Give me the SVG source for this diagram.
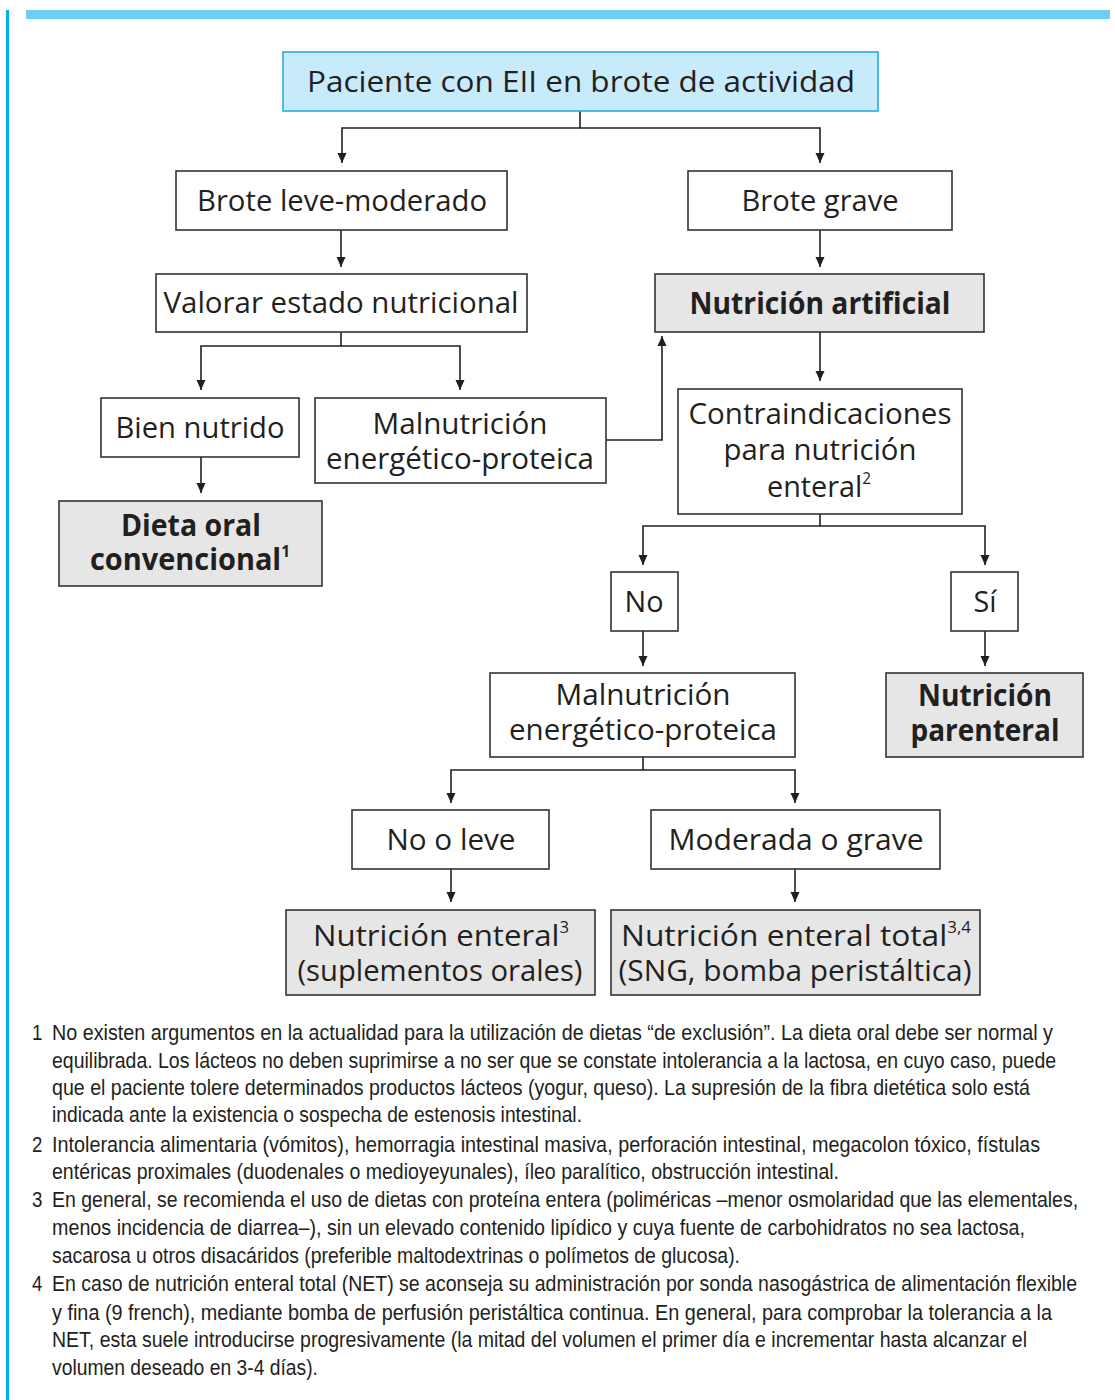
<svg xmlns="http://www.w3.org/2000/svg" width="1115" height="1400" viewBox="0 0 1115 1400">
  <defs>
    <marker id="arrow" viewBox="0 0 10 10" refX="10" refY="5" markerWidth="10" markerHeight="10" markerUnits="userSpaceOnUse" orient="auto">
      <path d="M0,0.5 L10,5 L0,9.5 Z" fill="#231f20"/>
    </marker>
    <style>
      .box { fill: #ffffff; stroke: #333333; stroke-width: 1.6; }
      .grey { fill: #e6e6e6; stroke: #333333; stroke-width: 1.6; }
      .head { fill: #c7ebfb; stroke: #29abe2; stroke-width: 1.6; }
      .t { font-family: "Open Sans", "Noto Sans", sans-serif; font-size: 30px; fill: #231f20; text-anchor: middle; }
      .b { font-weight: bold; }
      .sup { font-size: 16px; }
      .conn { fill: none; stroke: #231f20; stroke-width: 1.6; }
      .fn { font-family: "Liberation Sans", Arial, sans-serif; font-size: 22px; fill: #231f20; }
    </style>
  </defs>

  <!-- page rules -->
  <rect x="6" y="10" width="3" height="1390" fill="#00aeef"/>
  <rect x="26" y="10" width="1084" height="9" fill="#6dcff6"/>

  <!-- connectors -->
  <g id="connectors">
    <path class="conn" d="M580,111 V128 H342 V163" marker-end="url(#arrow)"/>
    <path class="conn" d="M580,128 H820 V163" marker-end="url(#arrow)"/>
    <path class="conn" d="M341,230 V267" marker-end="url(#arrow)"/>
    <path class="conn" d="M820,230 V267" marker-end="url(#arrow)"/>
    <path class="conn" d="M341,332 V346 H201 V390" marker-end="url(#arrow)"/>
    <path class="conn" d="M341,346 H460 V390" marker-end="url(#arrow)"/>
    <path class="conn" d="M606,440 H662 V336" marker-end="url(#arrow)"/>
    <path class="conn" d="M201,457 V493" marker-end="url(#arrow)"/>
    <path class="conn" d="M820,332 V381" marker-end="url(#arrow)"/>
    <path class="conn" d="M820,514 V526 H643 V565" marker-end="url(#arrow)"/>
    <path class="conn" d="M820,526 H985 V565" marker-end="url(#arrow)"/>
    <path class="conn" d="M643,631 V666" marker-end="url(#arrow)"/>
    <path class="conn" d="M985,631 V666" marker-end="url(#arrow)"/>
    <path class="conn" d="M643,757 V770 H451 V803" marker-end="url(#arrow)"/>
    <path class="conn" d="M643,770 H795 V803" marker-end="url(#arrow)"/>
    <path class="conn" d="M451,869 V902" marker-end="url(#arrow)"/>
    <path class="conn" d="M795,869 V902" marker-end="url(#arrow)"/>
  </g>

  <g id="paciente">
    <rect class="head" x="283" y="52" width="595" height="59"/>
    <text class="t" x="581" y="92" textLength="548" lengthAdjust="spacingAndGlyphs">Paciente con EII en brote de actividad</text>
  </g>

  <g id="brote-leve">
    <rect class="box" x="176" y="171" width="331" height="59"/>
    <text class="t" x="342" y="211" textLength="290" lengthAdjust="spacingAndGlyphs">Brote leve-moderado</text>
  </g>

  <g id="brote-grave">
    <rect class="box" x="688" y="171" width="264" height="59"/>
    <text class="t" x="820" y="211" textLength="157" lengthAdjust="spacingAndGlyphs">Brote grave</text>
  </g>

  <g id="valorar">
    <rect class="box" x="156" y="274" width="371" height="58"/>
    <text class="t" x="341" y="313" textLength="355" lengthAdjust="spacingAndGlyphs">Valorar estado nutricional</text>
  </g>

  <g id="nutricion-artificial">
    <rect class="grey" x="655" y="274" width="329" height="58"/>
    <text class="t b" x="820" y="314" textLength="261" lengthAdjust="spacingAndGlyphs">Nutrición artificial</text>
  </g>

  <g id="bien-nutrido">
    <rect class="box" x="101" y="398" width="198" height="59"/>
    <text class="t" x="200" y="438" textLength="169" lengthAdjust="spacingAndGlyphs">Bien nutrido</text>
  </g>

  <g id="malnutricion-1">
    <rect class="box" x="315" y="398" width="291" height="85"/>
    <text class="t" x="460" y="434" textLength="175" lengthAdjust="spacingAndGlyphs">Malnutrición</text>
    <text class="t" x="460" y="469" textLength="268" lengthAdjust="spacingAndGlyphs">energético-proteica</text>
  </g>

  <g id="dieta-oral">
    <rect class="grey" x="59" y="501" width="263" height="85"/>
    <text class="t b" x="191" y="536" textLength="140" lengthAdjust="spacingAndGlyphs">Dieta oral</text>
    <text class="t b" x="190" y="570" textLength="200" lengthAdjust="spacingAndGlyphs">convencional<tspan class="sup" dy="-13">1</tspan></text>
  </g>

  <g id="contraindicaciones">
    <rect class="box" x="678" y="389" width="284" height="125"/>
    <text class="t" x="820" y="424" textLength="263" lengthAdjust="spacingAndGlyphs">Contraindicaciones</text>
    <text class="t" x="820" y="460" textLength="193" lengthAdjust="spacingAndGlyphs">para nutrición</text>
    <text class="t" x="819" y="497" textLength="104" lengthAdjust="spacingAndGlyphs">enteral<tspan class="sup" dy="-13">2</tspan></text>
  </g>

  <g id="no">
    <rect class="box" x="611" y="572" width="67" height="59"/>
    <text class="t" x="644" y="612" textLength="39" lengthAdjust="spacingAndGlyphs">No</text>
  </g>

  <g id="si">
    <rect class="box" x="951" y="572" width="67" height="59"/>
    <text class="t" x="985" y="612" textLength="23" lengthAdjust="spacingAndGlyphs">Sí</text>
  </g>

  <g id="malnutricion-2">
    <rect class="box" x="490" y="673" width="305" height="84"/>
    <text class="t" x="643" y="705" textLength="175" lengthAdjust="spacingAndGlyphs">Malnutrición</text>
    <text class="t" x="643" y="740" textLength="268" lengthAdjust="spacingAndGlyphs">energético-proteica</text>
  </g>

  <g id="nutricion-parenteral">
    <rect class="grey" x="886" y="673" width="197" height="84"/>
    <text class="t b" x="985" y="706" textLength="134" lengthAdjust="spacingAndGlyphs">Nutrición</text>
    <text class="t b" x="985" y="741" textLength="149" lengthAdjust="spacingAndGlyphs">parenteral</text>
  </g>

  <g id="no-o-leve">
    <rect class="box" x="352" y="810" width="197" height="59"/>
    <text class="t" x="451" y="850" textLength="129" lengthAdjust="spacingAndGlyphs">No o leve</text>
  </g>

  <g id="moderada-grave">
    <rect class="box" x="651" y="810" width="289" height="59"/>
    <text class="t" x="796" y="850" textLength="255" lengthAdjust="spacingAndGlyphs">Moderada o grave</text>
  </g>

  <g id="nutricion-enteral">
    <rect class="grey" x="286" y="910" width="309" height="85"/>
    <text class="t" x="441" y="946" textLength="256" lengthAdjust="spacingAndGlyphs">Nutrición enteral<tspan class="sup" dy="-13">3</tspan></text>
    <text class="t" x="440" y="981" textLength="285" lengthAdjust="spacingAndGlyphs">(suplementos orales)</text>
  </g>

  <g id="nutricion-enteral-total">
    <rect class="grey" x="611" y="910" width="369" height="85"/>
    <text class="t" x="796" y="946" textLength="350" lengthAdjust="spacingAndGlyphs">Nutrición enteral total<tspan class="sup" dy="-13">3,4</tspan></text>
    <text class="t" x="795" y="981" textLength="353" lengthAdjust="spacingAndGlyphs">(SNG, bomba peristáltica)</text>
  </g>

  <!-- footnotes: set in a horizontally condensed face (x scaled by 0.85) -->
  <g id="notes" transform="scale(0.85,1)">
    <text class="fn" x="37.6" y="1040">1</text>
    <text class="fn" x="61.2" y="1040" textLength="1177.6" lengthAdjust="spacingAndGlyphs">No existen argumentos en la actualidad para la utilización de dietas “de exclusión”. La dieta oral debe ser normal y</text>
    <text class="fn" x="61.2" y="1068" textLength="1181.2" lengthAdjust="spacingAndGlyphs">equilibrada. Los lácteos no deben suprimirse a no ser que se constate intolerancia a la lactosa, en cuyo caso, puede</text>
    <text class="fn" x="61.2" y="1095" textLength="1150.6" lengthAdjust="spacingAndGlyphs">que el paciente tolere determinados productos lácteos (yogur, queso). La supresión de la fibra dietética solo está</text>
    <text class="fn" x="61.2" y="1122" textLength="623.5" lengthAdjust="spacingAndGlyphs">indicada ante la existencia o sospecha de estenosis intestinal.</text>
    <text class="fn" x="37.6" y="1152">2</text>
    <text class="fn" x="61.2" y="1152" textLength="1162.4" lengthAdjust="spacingAndGlyphs">Intolerancia alimentaria (vómitos), hemorragia intestinal masiva, perforación intestinal, megacolon tóxico, fístulas</text>
    <text class="fn" x="61.2" y="1179" textLength="925.9" lengthAdjust="spacingAndGlyphs">entéricas proximales (duodenales o medioyeyunales), íleo paralítico, obstrucción intestinal.</text>
    <text class="fn" x="37.6" y="1207">3</text>
    <text class="fn" x="61.2" y="1207" textLength="1207.1" lengthAdjust="spacingAndGlyphs">En general, se recomienda el uso de dietas con proteína entera (poliméricas –menor osmolaridad que las elementales,</text>
    <text class="fn" x="61.2" y="1235" textLength="1144.7" lengthAdjust="spacingAndGlyphs">menos incidencia de diarrea–),  sin un elevado contenido lipídico y cuya fuente de carbohidratos no sea lactosa,</text>
    <text class="fn" x="61.2" y="1263" textLength="809.4" lengthAdjust="spacingAndGlyphs">sacarosa u otros disacáridos (preferible maltodextrinas o polímetos de glucosa).</text>
    <text class="fn" x="37.6" y="1291">4</text>
    <text class="fn" x="61.2" y="1291" textLength="1205.9" lengthAdjust="spacingAndGlyphs">En caso de nutrición enteral total (NET) se aconseja su administración por sonda nasogástrica de alimentación flexible</text>
    <text class="fn" x="61.2" y="1320" textLength="1176.5" lengthAdjust="spacingAndGlyphs">y fina (9 french), mediante bomba de perfusión peristáltica continua. En general, para comprobar la tolerancia a la</text>
    <text class="fn" x="61.2" y="1347" textLength="1147.1" lengthAdjust="spacingAndGlyphs">NET, esta suele introducirse progresivamente (la mitad del volumen el primer día e incrementar hasta alcanzar el</text>
    <text class="fn" x="61.2" y="1375" textLength="312.9" lengthAdjust="spacingAndGlyphs">volumen deseado en 3-4 días).</text>
  </g>
</svg>
